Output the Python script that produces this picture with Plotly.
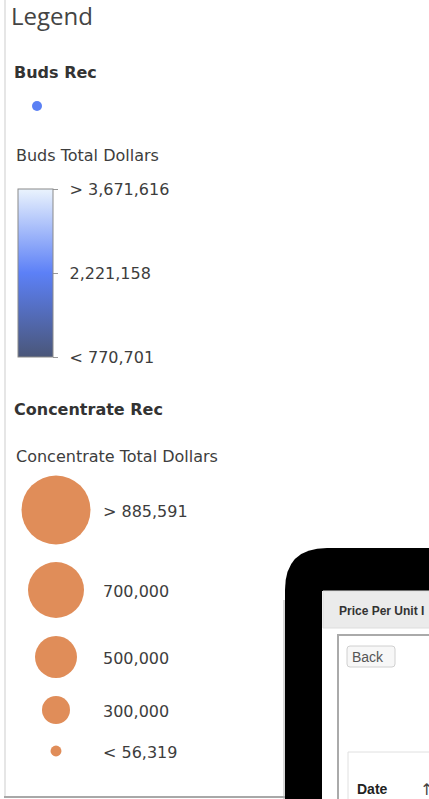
import plotly.graph_objects as go

# ---- data ----
buds_min = 770701
buds_max = 3671616
buds_mid = 2221158
buds_tick_vals = [buds_max, buds_mid, buds_min]
buds_tick_text = ["> 3,671,616", "2,221,158", "< 770,701"]

conc_values = [885591, 700000, 500000, 300000, 56319]
conc_labels = ["> 885,591", "700,000", "500,000", "300,000", "< 56,319"]

W, H = 429, 799
TXT = "#3d3d3d"
FONT = "DejaVu Sans"
PAD = "\u00a0\u2009"

fig = go.Figure()

# Buds Rec symbol
fig.add_trace(go.Scatter(x=[37], y=[106], mode="markers",
                         marker=dict(size=10, color="#5b80f4", opacity=1),
                         hoverinfo="skip", showlegend=False))

# Colorbar carrier (invisible points)
fig.add_trace(go.Scatter(
    x=[-50, -50], y=[-50, -50], mode="markers",
    marker=dict(size=1, color=[buds_min, buds_max], cmin=buds_min, cmax=buds_max,
                colorscale=[[0, "#4a5679"], [0.5, "#5c80f7"], [1, "#eaf3fd"]],
                showscale=True,
                colorbar=dict(
                    x=18 / W, xanchor="left", xref="paper",
                    y=1 - 189 / H, yanchor="top", yref="paper",
                    len=168, lenmode="pixels", thickness=35, thicknessmode="pixels",
                    xpad=0, ypad=0,
                    outlinewidth=1, outlinecolor="#8a8a8a",
                    tickmode="array", tickvals=buds_tick_vals,
                    ticktext=[PAD + t for t in buds_tick_text],
                    ticks="outside", ticklen=5, tickcolor="#999", tickwidth=1,
                    tickfont=dict(family=FONT, size=16, color=TXT),
                    bgcolor="rgba(0,0,0,0)",
                )),
    hoverinfo="skip", showlegend=False))

# Concentrate bubbles: diameter linear in value
bubble_y = [510, 590, 657, 710, 751]
sizes = [7 + 7e-5 * v for v in conc_values]
fig.add_trace(go.Scatter(x=[56] * len(conc_values), y=bubble_y, mode="markers",
                         marker=dict(size=sizes, color="#e08d59", opacity=1, line=dict(width=0)),
                         hoverinfo="skip", showlegend=False))

ann = []
def txt(x, y, s, size=16, bold=False, family=FONT, color=TXT):
    ann.append(dict(x=x, y=y, xref="x", yref="y", text=f"<b>{s}</b>" if bold else s,
                    showarrow=False, xanchor="left", yanchor="middle",
                    font=dict(family=family, size=size, color=color)))

txt(9, 15, "Legend", size=24, family="Open Sans", color="#444")
txt(12, 72, "Buds Rec", bold=True, color="#333")
txt(14, 155, "Buds Total Dollars")
txt(12, 409, "Concentrate Rec", bold=True, color="#333")
txt(14, 456, "Concentrate Total Dollars")
for yy, lab in zip(bubble_y, conc_labels):
    txt(101, yy + 1, lab)

# device mock-up text
txt(337, 611, "Price Per Unit I", size=12, bold=True, family="Liberation Sans", color="#333")
txt(350, 657, "Back", size=14, family="Liberation Sans", color="#555")
txt(355, 789, "Date", size=14, bold=True, family="Liberation Sans", color="#222")
txt(418, 789, "↑", size=16, family="DejaVu Sans", color="#444")

shapes = [
    # panel edges / shadow
    dict(type="line", x0=5, x1=5, y0=0, y1=797, line=dict(color="#e6e6e6", width=2)),
    dict(type="line", x0=4, x1=285, y0=797, y1=797, line=dict(color="#a8a8a8", width=2)),
    dict(type="line", x0=284, x1=284, y0=600, y1=799, line=dict(color="#b0b0b0", width=1)),
    # device body
    dict(type="path", path="M 285,799 L 285,590 Q 285,548 327,548 L 430,548 L 430,799 Z",
         fillcolor="black", line=dict(width=0)),
    # screen
    dict(type="rect", x0=322, x1=430, y0=591, y1=800, fillcolor="white", line=dict(width=0)),
    dict(type="rect", x0=323, x1=431, y0=591, y1=628, fillcolor="#ebebeb",
         line=dict(color="#dddddd", width=1)),
    dict(type="rect", x0=338, x1=440, y0=635, y1=820, fillcolor="white",
         line=dict(color="#aaaaaa", width=2)),
    dict(type="path", path="M 350,646 L 392,646 Q 395,646 395,649 L 395,664 Q 395,667 392,667 "
                           "L 350,667 Q 347,667 347,664 L 347,649 Q 347,646 350,646 Z",
         fillcolor="#f7f7f7", line=dict(color="#d0d0d0", width=1)),
    dict(type="rect", x0=348, x1=440, y0=752, y1=820, fillcolor="white",
         line=dict(color="#e0e0e0", width=1)),
]

fig.update_layout(
    width=W, height=H, margin=dict(l=0, r=0, t=0, b=0, autoexpand=False),
    paper_bgcolor="white", plot_bgcolor="white",
    xaxis=dict(range=[0, W], visible=False, fixedrange=True),
    yaxis=dict(range=[H, 0], visible=False, fixedrange=True),
    annotations=ann, shapes=shapes, showlegend=False,
)

fig.write_html("out.html", config={"displayModeBar": False},
               post_script="document.body.style.margin='0px';document.body.style.overflow='hidden';")
